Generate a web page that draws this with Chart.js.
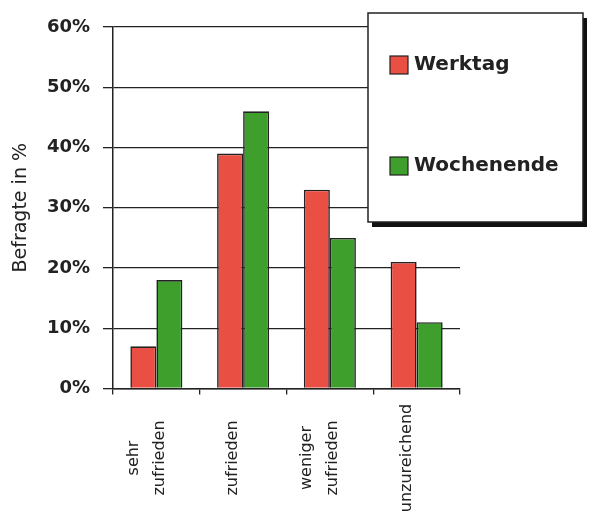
<html>
<head>
<style>
  body { margin: 0; background: #fff; }
</style>
</head>
<body>
<canvas id="myChart" width="589" height="524"></canvas>

<script src="https://cdn.jsdelivr.net/npm/chart.js"></script>

<script>
  // survey answers, share of respondents in %
  const categories = [['sehr', 'zufrieden'], 'zufrieden', ['weniger', 'zufrieden'], 'unzureichend'];
  const werktag = [7, 39, 33, 21];
  const wochenende = [18, 46, 25, 11];
  const yTicks = [0, 10, 20, 30, 40, 50, 60];

  const ink = '#222';

  // boxed legend with drop shadow, sitting over the top right of the plot
  const boxLegend = {
    id: 'boxLegend',
    afterDraw(chart) {
      const c = chart.ctx;
      const x = 368, y = 13, w = 215, h = 209;
      c.save();
      c.fillStyle = '#111';
      c.fillRect(x + 4, y + 5, w, h);
      c.fillStyle = '#fff';
      c.fillRect(x, y, w, h);
      c.strokeStyle = ink;
      c.lineWidth = 1.5;
      c.strokeRect(x, y, w, h);

      const rows = [65, 166];
      c.font = 'bold 20px "DejaVu Sans"';
      c.textBaseline = 'middle';
      chart.data.datasets.forEach((ds, i) => {
        c.fillStyle = ds.backgroundColor;
        c.fillRect(390, rows[i] - 9, 18, 18);
        c.lineWidth = 1.2;
        c.strokeStyle = ink;
        c.strokeRect(390, rows[i] - 9, 18, 18);
        c.fillStyle = ink;
        c.fillText(ds.label, 414, rows[i]);
      });
      c.restore();
    }
  };

  // vertical category names, lines centred on each other
  const xLabels = {
    id: 'xLabels',
    afterDraw(chart) {
      const c = chart.ctx;
      const sc = chart.scales.x;
      c.save();
      c.font = '16px "DejaVu Sans"';
      c.fillStyle = ink;
      c.textAlign = 'center';
      c.textBaseline = 'middle';
      chart.data.labels.forEach((lab, i) => {
        const lines = Array.isArray(lab) ? lab : [lab];
        c.save();
        c.translate(sc.getPixelForValue(i) - 10, 458);
        c.rotate(-Math.PI / 2);
        lines.forEach((ln, k) => {
          c.fillText(ln, 0, (k - (lines.length - 1) / 2) * 26);
        });
        c.restore();
      });
      c.restore();
    }
  };

  const ctx = document.getElementById('myChart');

  chart = new Chart(ctx, {
    type: 'bar',
    data: {
      labels: categories,
      datasets: [{
        label: 'Werktag',
        data: werktag,
        backgroundColor: '#ea4f43',
        borderColor: ink,
        borderWidth: 1.6
      }, {
        label: 'Wochenende',
        data: wochenende,
        backgroundColor: '#3f9f2c',
        borderColor: ink,
        borderWidth: 1.6
      }]
    },
    options: {
      responsive: false,
      animation: false,
      layout: { padding: { top: 27, right: 129, bottom: 0, left: 0 } },
      datasets: { bar: { categoryPercentage: 0.6, barPercentage: 1.0 } },
      plugins: {
        legend: { display: false },
        tooltip: { enabled: false }
      },
      scales: {
        x: {
          afterFit(scale) { scale.height = 135.5; },
          grid: { drawOnChartArea: false, color: ink, lineWidth: 1.3, tickLength: 6 },
          border: { color: ink, width: 1.5 },
          ticks: { display: false }
        },
        y: {
          min: 0,
          max: 60,
          afterFit(scale) { scale.width = 113; },
          afterBuildTicks(scale) { scale.ticks = yTicks.map(v => ({ value: v })); },
          grid: { color: ink, lineWidth: 1.3, tickLength: 10 },
          border: { color: ink, width: 1.5 },
          ticks: {
            padding: 13,
            color: ink,
            font: { family: 'DejaVu Sans', size: 18, weight: 'bold' },
            callback: v => v + '%'
          },
          title: {
            display: true,
            text: 'Befragte in %',
            color: ink,
            font: { family: 'DejaVu Sans', size: 19 },
            padding: { top: 10, bottom: 0 }
          }
        }
      }
    },
    plugins: [boxLegend, xLabels]
  });
</script>
</body>
</html>
